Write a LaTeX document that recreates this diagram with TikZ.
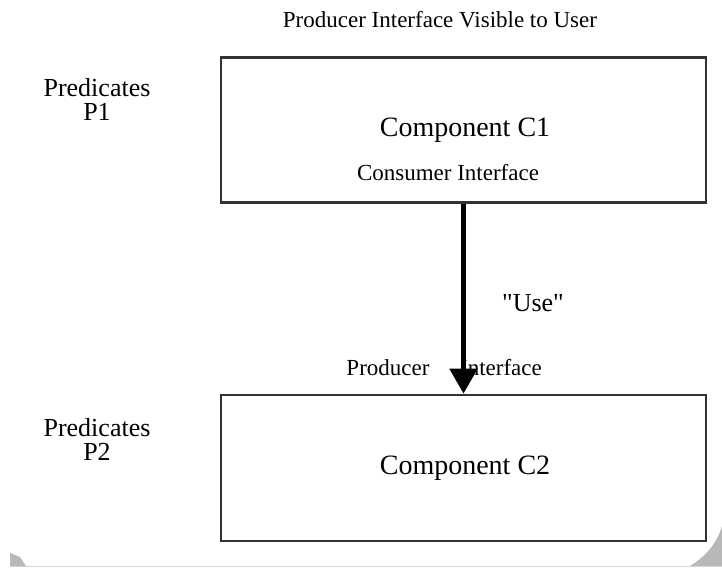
\documentclass[tikz,border=0pt]{standalone}
\usepackage{fontspec}
\setmainfont{Liberation Serif}
\newfontfamily\plainserif{Liberation Serif}
\usetikzlibrary{arrows.meta}
\definecolor{boxline}{HTML}{333333}
\definecolor{curl}{HTML}{B8B8B8}
\tikzset{
  compbox/.style={draw=boxline, line width=2.6pt, rectangle, inner sep=0pt},
  bigtext/.style={font=\fontsize{28}{30}\selectfont, inner sep=0pt},
  midtext/.style={font=\fontsize{26}{26}\selectfont, inner sep=0pt, align=center},
  smalltext/.style={font=\fontsize{23}{24}\selectfont, inner sep=0pt},
  usearrow/.style={line width=5pt, -{Triangle[width=27pt,length=25pt]}}
}
\begin{document}
\begin{tikzpicture}[x=1pt,y=-1pt]
  \useasboundingbox (0,0) rectangle (722,569);
  % page curl shadow
  \fill[curl] (722,526) .. controls (716,546) and (703,558) .. (690,566) -- (722,566) -- cycle;
  \fill[curl] (10,553) -- (20,557) -- (26,566) -- (10,566) -- cycle;
  \draw[curl!60, line width=0.8pt] (10,566.5) -- (722,566.5);
  % boxes
  \node[compbox, minimum width=485pt, minimum height=145pt] (c1) at (463.5,130) {};
  \node[compbox, minimum width=485pt, minimum height=146pt] (c2) at (463.5,468) {};
  % texts
  \node[smalltext] (title) at (440,20) {Producer Interface Visible to User};
  \node[bigtext] (c1name) at (465,130) {Component C1};
  \node[smalltext] (cons) at (448,173) {Consumer Interface};
  \node[bigtext] (c2name) at (465,468) {Component C2};
  \node[midtext] (p1) at (97,99) {Predicates\\[-2pt]P1};
  \node[midtext] (p2) at (97,439) {Predicates\\[-2pt]P2};
  \node[midtext] (use) at (533,303) {\plainserif "Use"};
  \node[smalltext] (prod) at (388,368) {Producer};
  \node[smalltext] (intf) at (501,368) {Interface};
  % connector
  \draw[usearrow] (c1.south) -- (c2.north);
\end{tikzpicture}
\end{document}
